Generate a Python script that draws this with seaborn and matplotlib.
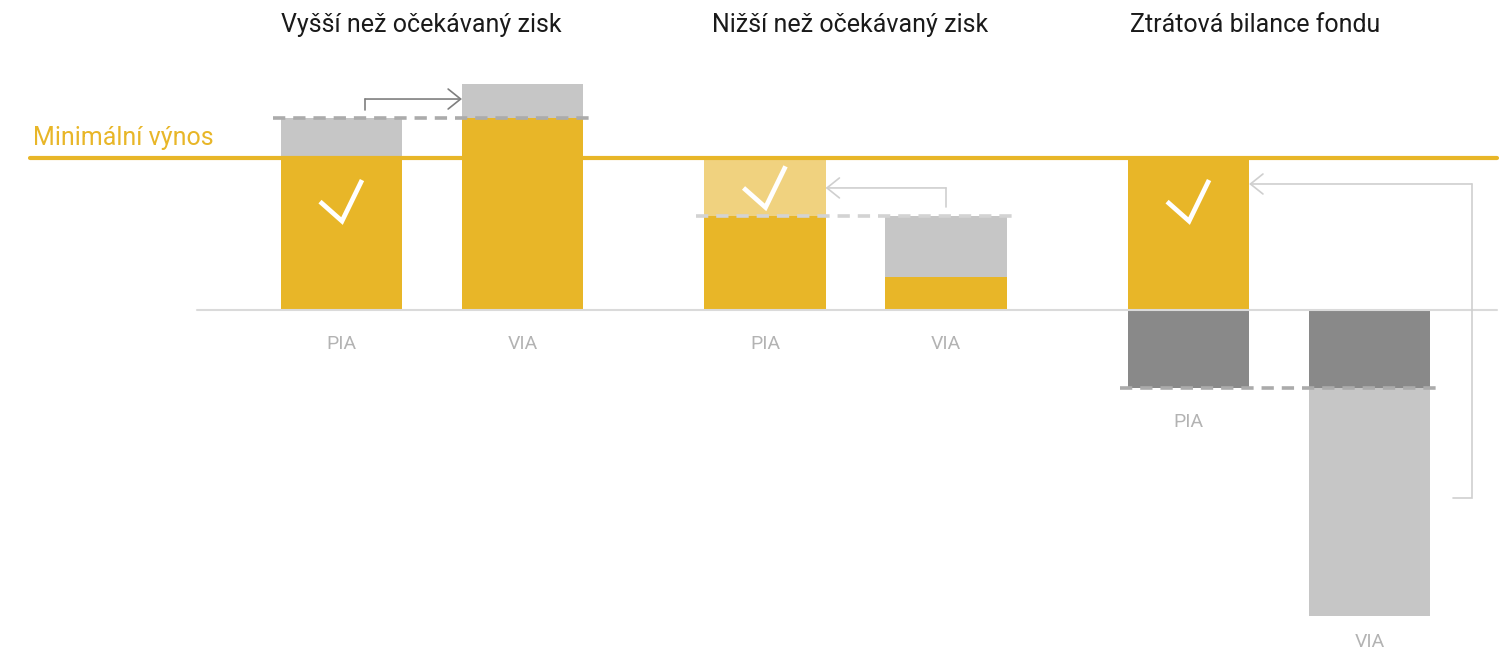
import numpy as np
import pandas as pd
import seaborn as sns
from matplotlib import pyplot as plt

sns.set_theme(style="white")
plt.rcParams['font.family'] = ['Roboto', 'DejaVu Sans']

# data (units: minimalni vynos = 100)
groups = ["Vyšší než očekávaný zisk", "Nižší než očekávaný zisk", "Ztrátová bilance fondu"]
bar_names = ["PIA", "VIA"]
min_return = 100
outer_vals = [126, 149, 100, 62, 100, -201]
inner_vals = [100, 126, 62, 22, -51, -51]
expected_vals = [126, 62, -51]

# colours
yellow = "#E8B628"
light_yellow = "#F0D27F"
grey = "#C6C6C6"
dark_grey = "#898989"
outer_cols = [grey, grey, light_yellow, grey, yellow, grey]
inner_cols = [yellow, yellow, yellow, yellow, dark_grey, dark_grey]

# layout
group_step = 2.34
bar_w = 0.669
pos = [g * group_step + i for g in range(len(groups)) for i in range(2)]
keys = [f"{g}_{b}" for g in range(len(groups)) for b in bar_names]

fig = plt.figure(figsize=(15.11, 6.52), dpi=100)
ax = fig.add_axes([0, 0, 1, 1])

outer = pd.DataFrame({"pos": pos, "val": outer_vals, "key": keys})
inner = pd.DataFrame({"pos": pos, "val": inner_vals, "key": keys})
sns.barplot(data=outer, x="pos", y="val", hue="key", palette=dict(zip(keys, outer_cols)),
            native_scale=True, dodge=False, width=bar_w, saturation=1, legend=False,
            errorbar=None, orient="x", linewidth=0, ax=ax)
sns.barplot(data=inner, x="pos", y="val", hue="key", palette=dict(zip(keys, inner_cols)),
            native_scale=True, dodge=False, width=bar_w, saturation=1, legend=False,
            errorbar=None, orient="x", linewidth=0, ax=ax)

px = 1.52  # pixels per value unit
ymin = -(652 - 310) / px
ax.set_xlim(-341.5 / 181, (1511 - 341.5) / 181)
ax.set_ylim(ymin, 310 / px)
ax.set_xlabel("")
ax.set_ylabel("")
ax.set_xticks([])
ax.set_yticks([])
for s in ax.spines.values():
    s.set_visible(False)

# baseline and minimal return line
ax.axhline(0, xmin=197 / 1511, xmax=1497 / 1511, color="#DADADA", lw=1.5, zorder=3)
ax.axhline(min_return, xmin=30 / 1511, xmax=1497 / 1511, color=yellow, lw=3, zorder=4)
ax.text(33 / 1511, 108.6, "Minimální výnos", transform=ax.get_yaxis_transform(),
        color=yellow, fontsize=18, ha="left", va="baseline")

# expected-return dashed lines
dash_cols = ["#ABABAB", "#D3D3D3", "#ABABAB"]
for g, v in enumerate(expected_vals):
    x0 = pos[2 * g] - bar_w / 2 - 0.045
    x1 = pos[2 * g + 1] + bar_w / 2 + 0.05
    ax.plot([x0, x1], [v, v], color=dash_cols[g], lw=2.6, dashes=(3.4, 2.2), zorder=5,
            dash_capstyle="butt")

# checkmarks
check_mid = [72, 81, 72]
for g, c in enumerate(check_mid):
    xc = pos[2 * g]
    xs = [xc - 21.5 / 181, xc + 0.5 / 181, xc + 20.5 / 181]
    ys = [c - 0.7, c - 13.5, c + 13.5]
    ax.plot(xs, ys, color="white", lw=3.4, zorder=6, solid_capstyle="butt", solid_joinstyle="miter")

# arrows
def elbow(points, color):
    xs, ys = zip(*points)
    ax.plot(xs[:-1], ys[:-1], color=color, lw=1.2, zorder=5, solid_joinstyle="miter")
    ax.annotate("", xy=points[-1], xytext=points[-2],
                arrowprops=dict(arrowstyle="->,head_length=0.75,head_width=0.6", color=color,
                                lw=1.2, shrinkA=0, shrinkB=0), zorder=5)

elbow([(pos[0] + 0.13, 131.6), (pos[0] + 0.13, 138.8), (pos[1] - bar_w / 2, 138.8)], "#7F7F7F")
elbow([(pos[3], 67.8), (pos[3], 80.3), (pos[2] + bar_w / 2, 80.3)], "#CFCFCF")
elbow([(pos[5] + 0.46, -123.7), (pos[5] + 0.565, -123.7), (pos[5] + 0.565, 82.9),
       (pos[4] + bar_w / 2, 82.9)], "#CFCFCF")

# bar labels, below the lowest point of each bar
lows = np.minimum(np.minimum(outer_vals, inner_vals), 0)
for p, lo, name in zip(pos, lows, bar_names * len(groups)):
    y = max(lo - 34 / px, ymin + 10 / px)
    ax.text(p, y, name, ha="center", va="center", color="#B3B3B3", fontsize=14)

# group titles
title_shift = [-0.06, -0.03, -0.13]
for g, t in enumerate(groups):
    xc = (pos[2 * g] + pos[2 * g + 1]) / 2 + title_shift[g]
    ax.text(xc, (310 - 32) / px, t, ha="center", va="baseline", fontsize=18, color="#1A1A1A")

fig.savefig("out.png", dpi=100)
